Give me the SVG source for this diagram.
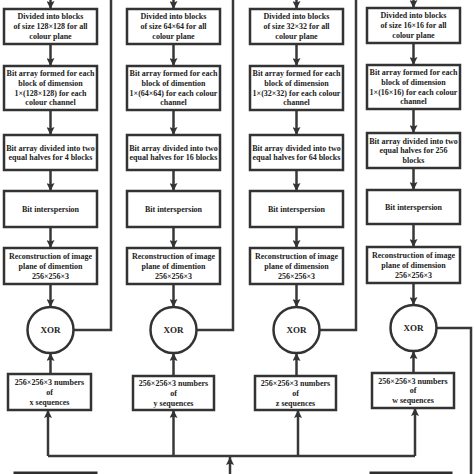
<svg xmlns="http://www.w3.org/2000/svg" width="474" height="474" viewBox="0 0 474 474">
<style>
.b{fill:#fff;stroke:#333;stroke-width:2.5}
.c{fill:#fff;stroke:#333;stroke-width:2.5}
.d{fill:#2e2e2e;stroke:#2e2e2e;stroke-width:1}
.l{fill:none;stroke:#383838;stroke-width:2.5}
.a{fill:none;stroke:#383838;stroke-width:2.5;marker-end:url(#ah)}
.t{font-family:"Liberation Serif","Times New Roman",serif;font-weight:bold;font-size:8px;fill:#222;text-anchor:middle}
.x{font-family:"Liberation Serif","Times New Roman",serif;font-weight:bold;font-size:9px;fill:#222;text-anchor:middle}
</style>
<defs>
<marker id="ah" viewBox="0 0 10 10" refX="10" refY="5" markerWidth="8" markerHeight="8" markerUnits="userSpaceOnUse" orient="auto">
<path d="M0,0 L10,5 L0,10 L2,5 z" fill="#333"/>
</marker>
</defs>
<rect width="474" height="474" fill="#fff"/>

<g id="connectors">
<!-- column 1 -->
<line class="a" x1="50.5" y1="0" x2="50.5" y2="9"/>
<line class="a" x1="50.5" y1="44" x2="50.5" y2="66"/>
<line class="a" x1="50.5" y1="110" x2="50.5" y2="135"/>
<line class="a" x1="50.5" y1="170" x2="50.5" y2="191"/>
<line class="a" x1="50.5" y1="227" x2="50.5" y2="248"/>
<line class="a" x1="50.5" y1="284" x2="50.5" y2="307"/>
<line class="a" x1="50.5" y1="374" x2="50.5" y2="353"/>
<polyline class="l" points="73.5,330 111,330 111,0"/>
<!-- column 2 -->
<line class="a" x1="173.5" y1="0" x2="173.5" y2="9"/>
<line class="a" x1="173.5" y1="44" x2="173.5" y2="66"/>
<line class="a" x1="173.5" y1="110" x2="173.5" y2="135"/>
<line class="a" x1="173.5" y1="170" x2="173.5" y2="191"/>
<line class="a" x1="173.5" y1="227" x2="173.5" y2="248"/>
<line class="a" x1="173.5" y1="284" x2="173.5" y2="307"/>
<line class="a" x1="173.5" y1="376" x2="173.5" y2="353"/>
<polyline class="l" points="196.5,330 233,330 233,0"/>
<!-- column 3 -->
<line class="a" x1="296.5" y1="0" x2="296.5" y2="9"/>
<line class="a" x1="296.5" y1="44" x2="296.5" y2="66"/>
<line class="a" x1="296.5" y1="110" x2="296.5" y2="135"/>
<line class="a" x1="296.5" y1="170" x2="296.5" y2="191"/>
<line class="a" x1="296.5" y1="227" x2="296.5" y2="248"/>
<line class="a" x1="296.5" y1="284" x2="296.5" y2="307"/>
<line class="a" x1="296.5" y1="376" x2="296.5" y2="353"/>
<polyline class="l" points="319.5,330 356,330 356,0"/>
<!-- column 4 -->
<line class="a" x1="413.5" y1="0" x2="413.5" y2="8"/>
<line class="a" x1="413.5" y1="43" x2="413.5" y2="65"/>
<line class="a" x1="413.5" y1="109" x2="413.5" y2="133"/>
<line class="a" x1="413.5" y1="168" x2="413.5" y2="190"/>
<line class="a" x1="413.5" y1="224" x2="413.5" y2="247"/>
<line class="a" x1="413.5" y1="283" x2="413.5" y2="305"/>
<line class="a" x1="413.5" y1="373" x2="413.5" y2="351"/>
<polyline class="l" points="436.5,328 471,328 471,474"/>
<!-- sequence bus -->
<polyline class="l" points="48,456 415,456"/>
<line class="a" x1="48" y1="456" x2="48" y2="410"/>
<line class="a" x1="173.5" y1="456" x2="173.5" y2="410"/>
<line class="a" x1="298" y1="456" x2="298" y2="410"/>
<line class="a" x1="415" y1="456" x2="415" y2="408"/>
<line class="a" x1="230" y1="474" x2="230" y2="457"/>
</g>

<g id="col1-divide"><rect class="b" x="4" y="9" width="93" height="35"/>
<text class="t" x="50.5" y="19.3">Divided into blocks</text><text class="t" x="50.5" y="29.3">of size 128×128 for all</text><text class="t" x="50.5" y="39.3">colour plane</text></g>
<g id="col1-bitarray"><rect class="b" x="4" y="66" width="93" height="44"/>
<text class="t" x="50.5" y="76.3">Bit array formed for each</text><text class="t" x="50.5" y="86">block of dimension</text><text class="t" x="50.5" y="95.6">1×(128×128) for each</text><text class="t" x="50.5" y="105.3">colour channel</text></g>
<g id="col1-halves"><rect class="b" x="4" y="135" width="93" height="35"/>
<text class="t" x="50.5" y="150.5">Bit array divided into two</text><text class="t" x="50.5" y="160.1">equal halves for 4 blocks</text></g>
<g id="col1-intersp"><rect class="b" x="4" y="191" width="93" height="36"/>
<text class="t" x="50.5" y="211.8">Bit interspersion</text></g>
<g id="col1-recon"><rect class="b" x="4" y="248" width="93" height="36"/>
<text class="t" x="50.5" y="259.1">Reconstruction of image</text><text class="t" x="50.5" y="268.8">plane of dimention</text><text class="t" x="50.5" y="278.5">256×256×3</text></g>
<g id="col1-xor"><circle class="c" cx="50.5" cy="330" r="23"/><text class="x" x="50.5" y="333.2">XOR</text></g>
<g id="col1-seq"><rect class="b" x="8" y="374" width="83" height="36"/>
<text class="t" x="49.5" y="385.1">256×256×3 numbers</text><text class="t" x="49.5" y="394.8">of</text><text class="t" x="49.5" y="404.5">x sequences</text></g>

<g id="col2-divide"><rect class="b" x="127" y="9" width="93" height="35"/>
<text class="t" x="173.5" y="19.3">Divided into blocks</text><text class="t" x="173.5" y="29.3">of size 64×64 for all</text><text class="t" x="173.5" y="39.3">colour plane</text></g>
<g id="col2-bitarray"><rect class="b" x="127" y="66" width="93" height="44"/>
<text class="t" x="173.5" y="76.3">Bit array formed for each</text><text class="t" x="173.5" y="86">block of dimention</text><text class="t" x="173.5" y="95.6">1×(64×64) for each colour</text><text class="t" x="173.5" y="105.3">channel</text></g>
<g id="col2-halves"><rect class="b" x="127" y="135" width="93" height="35"/>
<text class="t" x="173.5" y="150.5">Bit array divided into two</text><text class="t" x="173.5" y="160.1">equal halves for 16 blocks</text></g>
<g id="col2-intersp"><rect class="b" x="127" y="191" width="93" height="36"/>
<text class="t" x="173.5" y="211.8">Bit interspersion</text></g>
<g id="col2-recon"><rect class="b" x="127" y="248" width="93" height="36"/>
<text class="t" x="173.5" y="259.1">Reconstruction of image</text><text class="t" x="173.5" y="268.8">plane of dimention</text><text class="t" x="173.5" y="278.5">256×256×3</text></g>
<g id="col2-xor"><circle class="c" cx="173.5" cy="330" r="23"/><text class="x" x="173.5" y="333.2">XOR</text></g>
<g id="col2-seq"><rect class="b" x="133" y="376" width="81" height="34"/>
<text class="t" x="173.5" y="386.1">256×256×3 numbers</text><text class="t" x="173.5" y="395.8">of</text><text class="t" x="173.5" y="405.5">y sequences</text></g>

<g id="col3-divide"><rect class="b" x="250" y="9" width="93" height="35"/>
<text class="t" x="296.5" y="19.3">Divided into blocks</text><text class="t" x="296.5" y="29.3">of size 32×32 for all</text><text class="t" x="296.5" y="39.3">colour plane</text></g>
<g id="col3-bitarray"><rect class="b" x="250" y="66" width="93" height="44"/>
<text class="t" x="296.5" y="76.3">Bit array formed for each</text><text class="t" x="296.5" y="86">block of dimension</text><text class="t" x="296.5" y="95.6">1×(32×32) for each colour</text><text class="t" x="296.5" y="105.3">channel</text></g>
<g id="col3-halves"><rect class="b" x="250" y="135" width="93" height="35"/>
<text class="t" x="296.5" y="150.5">Bit array divided into two</text><text class="t" x="296.5" y="160.1">equal halves for 64 blocks</text></g>
<g id="col3-intersp"><rect class="b" x="250" y="191" width="93" height="36"/>
<text class="t" x="296.5" y="211.8">Bit interspersion</text></g>
<g id="col3-recon"><rect class="b" x="250" y="248" width="93" height="36"/>
<text class="t" x="296.5" y="259.1">Reconstruction of image</text><text class="t" x="296.5" y="268.8">plane of dimension</text><text class="t" x="296.5" y="278.5">256×256×3</text></g>
<g id="col3-xor"><circle class="c" cx="296.5" cy="330" r="23"/><text class="x" x="296.5" y="333.2">XOR</text></g>
<g id="col3-seq"><rect class="b" x="255" y="376" width="81" height="34"/>
<text class="t" x="295.5" y="386.1">256×256×3 numbers</text><text class="t" x="295.5" y="395.8">of</text><text class="t" x="295.5" y="405.5">z sequences</text></g>

<g id="col4-divide"><rect class="b" x="367" y="8" width="93" height="35"/>
<text class="t" x="413.5" y="18.3">Divided into blocks</text><text class="t" x="413.5" y="28.3">of size 16×16 for all</text><text class="t" x="413.5" y="38.3">colour plane</text></g>
<g id="col4-bitarray"><rect class="b" x="367" y="65" width="93" height="44"/>
<text class="t" x="413.5" y="75.3">Bit array formed for each</text><text class="t" x="413.5" y="85">block of dimension</text><text class="t" x="413.5" y="94.6">1×(16×16) for each colour</text><text class="t" x="413.5" y="104.3">channel</text></g>
<g id="col4-halves"><rect class="b" x="367" y="133" width="93" height="35"/>
<text class="t" x="413.5" y="143.6">Bit array divided into two</text><text class="t" x="413.5" y="153.3">equal halves for 256</text><text class="t" x="413.5" y="163">blocks</text></g>
<g id="col4-intersp"><rect class="b" x="367" y="190" width="93" height="34"/>
<text class="t" x="413.5" y="209.8">Bit interspersion</text></g>
<g id="col4-recon"><rect class="b" x="367" y="247" width="93" height="36"/>
<text class="t" x="413.5" y="258.1">Reconstruction of image</text><text class="t" x="413.5" y="267.8">plane of dimension</text><text class="t" x="413.5" y="277.5">256×256×3</text></g>
<g id="col4-xor"><circle class="c" cx="413.5" cy="328" r="23"/><text class="x" x="413.5" y="331.2">XOR</text></g>
<g id="col4-seq"><rect class="b" x="372" y="373" width="82" height="35"/>
<text class="t" x="413" y="383.6">256×256×3 numbers</text><text class="t" x="413" y="393.3">of</text><text class="t" x="413" y="403">w sequences</text></g>

<g id="bottom-left"><rect class="d" x="14" y="472" width="83" height="6"/></g>
<g id="bottom-right"><rect class="d" x="370" y="472" width="82" height="6"/></g>
</svg>
